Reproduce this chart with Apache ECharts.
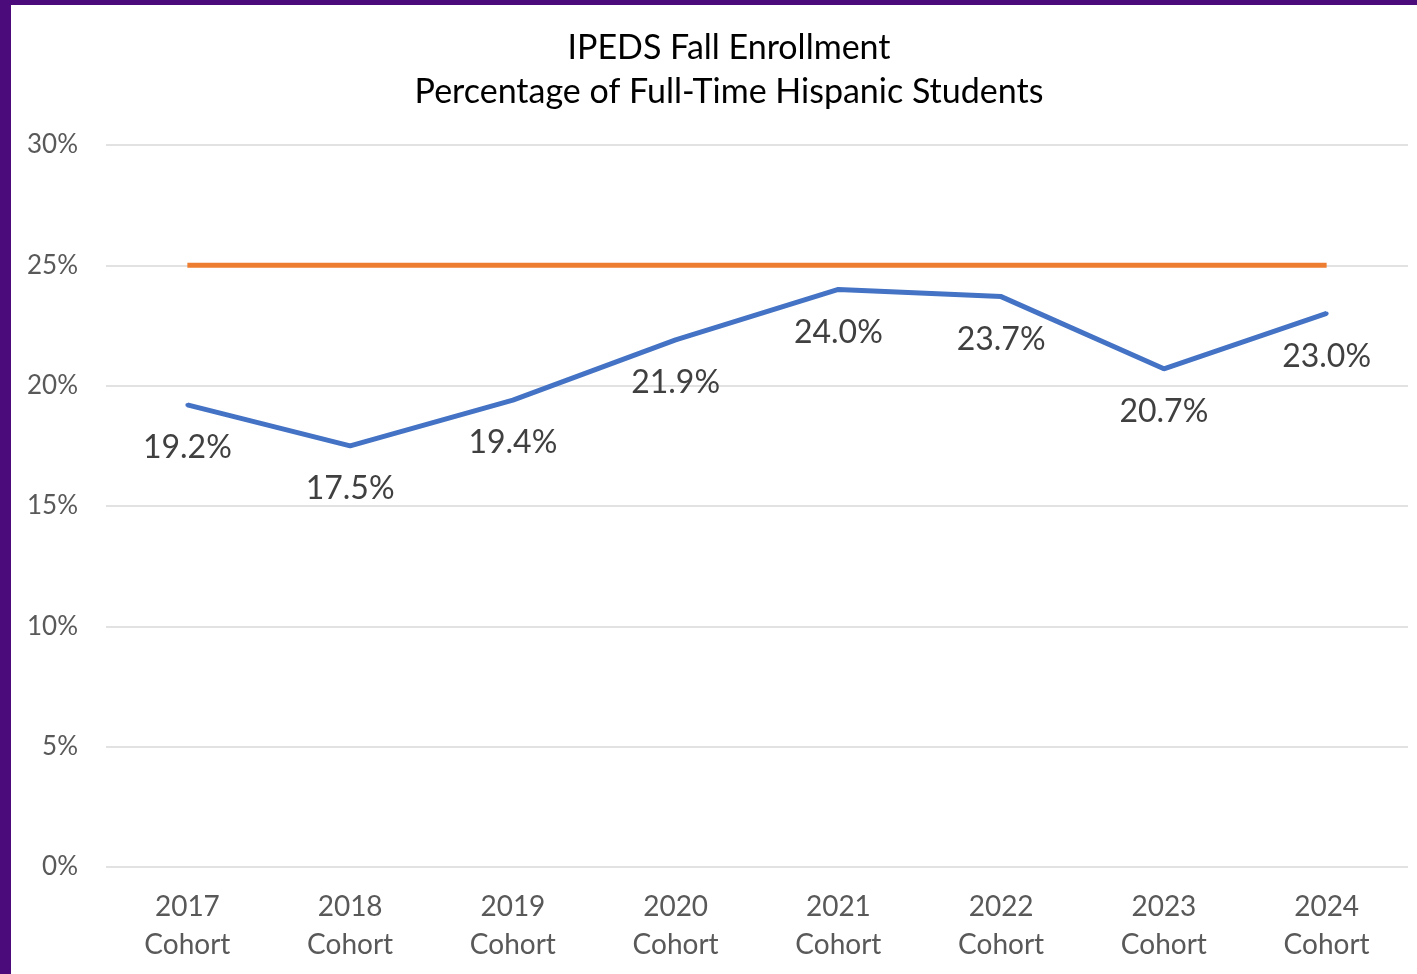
<!DOCTYPE html>
<html>
<head>
<meta charset="utf-8">
<script src="https://cdn.jsdelivr.net/npm/echarts@6/dist/echarts.min.js"></script>
<style>
html, body { margin: 0; padding: 0; background: #4b0b7b; width: 1417px; height: 974px; overflow: hidden; }
#chart { position: absolute; left: 11px; top: 5px; width: 1406px; height: 969px; background: #ffffff; }
</style>
</head>
<body>
<div id="chart"></div>
<script>
var cohorts = ['2017\nCohort', '2018\nCohort', '2019\nCohort', '2020\nCohort', '2021\nCohort', '2022\nCohort', '2023\nCohort', '2024\nCohort'];
var hispanicPct = [19.2, 17.5, 19.4, 21.9, 24.0, 23.7, 20.7, 23.0];
var targetPct = [25, 25, 25, 25, 25, 25, 25, 25];
var yTicks = [0, 5, 10, 15, 20, 25, 30];

var myChart = echarts.init(document.getElementById('chart'));
var fontName = 'Lato';
var option = {
	animation: false,
	title: {
		text: 'IPEDS Fall Enrollment\nPercentage of Full-Time Hispanic Students',
		left: 713,
		textAlign: 'center',
		top: 16,
		textStyle: {
			fontFamily: fontName,
			fontWeight: 'normal',
			fontSize: 34,
			lineHeight: 44,
			color: '#000000'
		}
	},
	grid: {
		left: 95,
		right: 9,
		top: 140,
		bottom: 107
	},
	xAxis: {
		type: 'category',
		data: cohorts,
		boundaryGap: true,
		axisLine: { show: false },
		axisTick: { show: false },
		axisLabel: {
			margin: 21,
			fontFamily: fontName,
			fontSize: 28,
			lineHeight: 38,
			color: '#595959'
		}
	},
	yAxis: {
		type: 'value',
		min: yTicks[0],
		max: yTicks[yTicks.length - 1],
		interval: 5,
		axisLine: { show: false },
		axisTick: { show: false },
		splitLine: { lineStyle: { color: '#d9d9d9', width: 1.5 } },
		axisLabel: {
			margin: 28,
			fontFamily: fontName,
			fontSize: 26,
			color: '#595959',
			formatter: function (v) { return v + '%'; }
		}
	},
	series: [
		{
			name: 'Target',
			type: 'line',
			data: targetPct,
			symbol: 'none',
			lineStyle: { color: '#ed7d31', width: 5 },
			z: 2
		},
		{
			name: 'Hispanic',
			type: 'line',
			data: hispanicPct,
			symbol: 'circle',
			symbolSize: 4,
			showSymbol: true,
			itemStyle: { color: '#4472c4' },
			lineStyle: { color: '#4472c4', width: 5 },
			label: {
				show: true,
				position: 'bottom',
				distance: 25,
				fontFamily: fontName,
				fontSize: 32,
				color: '#404040',
				formatter: function (p) { return p.value.toFixed(1) + '%'; }
			},
			z: 3
		}
	]
};
myChart.setOption(option);
</script>
</body>
</html>
